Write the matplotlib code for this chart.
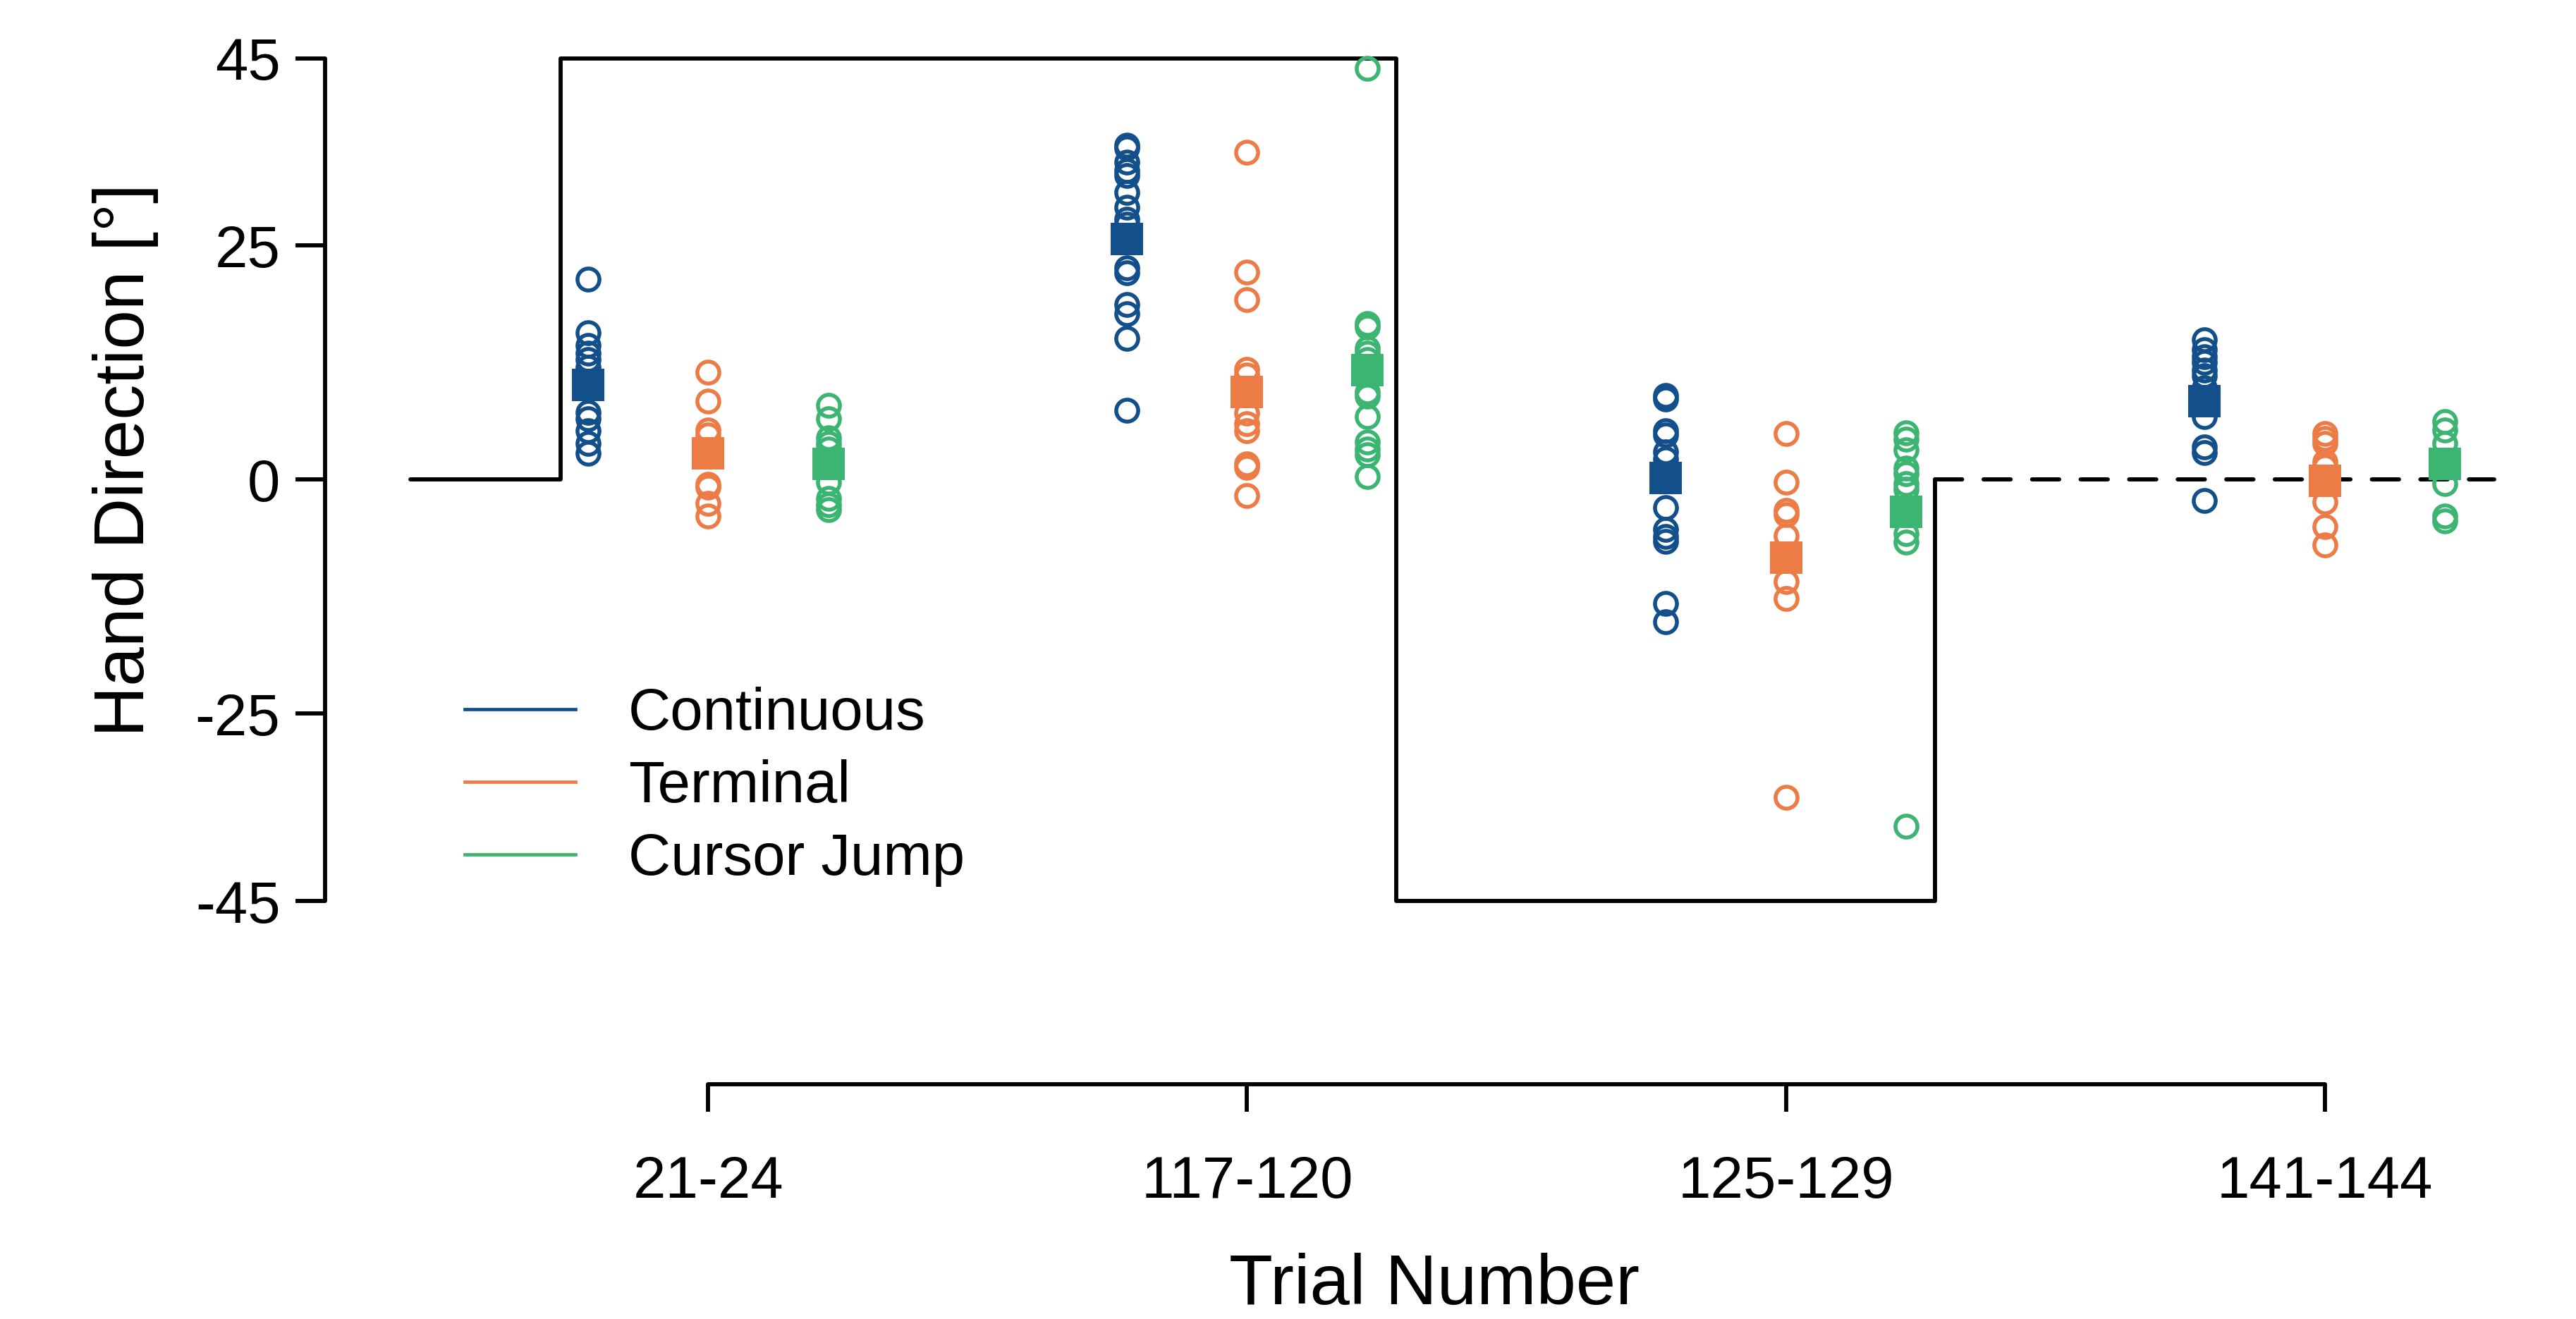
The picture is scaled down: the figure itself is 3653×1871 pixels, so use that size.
import matplotlib
matplotlib.use("Agg")
from matplotlib import pyplot as plt
from matplotlib.lines import Line2D

plt.rcParams['font.family'] = ['Liberation Sans', 'DejaVu Sans']
plt.rcParams['axes.unicode_minus'] = False

# x-axis groups (trial blocks)
blocks = ['21-24', '117-120', '125-129', '141-144']
block_pos = [1, 2, 3, 4]

# single-participant hand directions per block (degrees)
continuous = [
    [21.4, 15.7, 14.3, 13.5, 12.8, 12.0, 7.2, 6.5, 5.2, 3.9, 2.8],
    [35.7, 35.4, 33.9, 33.0, 32.5, 30.7, 29.1, 27.8, 27.3, 22.6, 22.1, 18.7, 17.7, 15.1, 7.4],
    [9.0, 8.6, 5.2, 4.8, 3.0, 2.2, -3.0, -5.3, -6.1, -6.6, -13.2, -15.2],
    [14.9, 13.9, 13.1, 12.5, 11.7, 11.1, 9.8, 6.7, 3.5, 2.9, -2.2],
]
terminal = [
    [11.5, 8.4, 5.3, 4.8, -0.5, -0.8, -2.5, -3.9],
    [35.0, 22.2, 19.2, 11.8, 11.2, 7.1, 6.0, 5.2, 1.7, 1.3, -1.7],
    [4.9, -0.25, -3.3, -3.7, -6.0, -10.9, -12.7, -33.9],
    [4.9, 4.4, 3.9, 1.9, 1.4, -2.4, -5.0, -7.0],
]
cursor_jump = [
    [7.9, 6.5, 4.5, 3.9, 3.3, -0.3, -2.0, -2.7, -3.2],
    [43.9, 16.7, 16.3, 14.0, 13.5, 12.8, 9.4, 8.9, 6.7, 4.0, 3.3, 2.7, 0.3],
    [5.0, 4.3, 3.2, 1.2, 0.6, -0.4, -1.0, -5.8, -6.7, -37.0],
    [6.2, 5.3, 3.9, -0.4, -3.9, -4.4],
]

# group means
continuous_mean = [10.1, 25.7, 0.2, 8.4]
terminal_mean = [2.8, 9.4, -8.3, -0.1]
cursor_jump_mean = [1.7, 11.7, -3.4, 1.7]

# rotation schedule (solid) and washout (dashed)
sched_x = [0.448, 0.726, 0.726, 2.277, 2.277, 3.277, 3.277]
sched_y = [0, 0, 45, 45, -45, -45, 0]
washout_x = [3.277, 4.314]
washout_y = [0, 0]

labels = ['Continuous', 'Terminal', 'Cursor Jump']
colors = ['#124F8B', '#ED7B45', '#3DB572']
offsets = [-0.223, 0, 0.223]

fig = plt.figure(figsize=(3653 / 200, 1871 / 200), dpi=200)
ax = fig.add_axes([0.1263, 0.1781, 0.9694 - 0.1263, 0.9626 - 0.1781])

lw = 2.1
ax.plot(sched_x, sched_y, color='black', lw=lw, solid_joinstyle='round',
        solid_capstyle='round')
ax.plot(washout_x, washout_y, color='black', lw=lw, linestyle=(0, (6.6, 5.2)),
        dash_capstyle='round')

for vals, means, col, off in zip([continuous, terminal, cursor_jump],
                                 [continuous_mean, terminal_mean, cursor_jump_mean],
                                 colors, offsets):
    for pos, v in zip(block_pos, vals):
        ax.plot([pos + off] * len(v), v, linestyle='none', marker='o',
                markersize=11.2, markerfacecolor='none', markeredgecolor=col,
                markeredgewidth=2.0)
    ax.plot([p + off for p in block_pos], means, linestyle='none', marker='s',
            markersize=16.5, color=col, markeredgewidth=0)

ax.set_xlim(0.2896, 4.320)
ax.set_ylim(-64.56, 45.96)

for s in ['top', 'right']:
    ax.spines[s].set_visible(False)
ax.spines['left'].set_bounds(-45, 45)
ax.spines['bottom'].set_bounds(1, 4)
ax.spines['left'].set_linewidth(lw)
ax.spines['bottom'].set_linewidth(lw)
ax.spines['left'].set_capstyle('round')
ax.spines['bottom'].set_capstyle('round')

ax.set_yticks([-45, -25, 0, 25, 45])
ax.set_yticklabels(['-45', '-25', '0', '25', '45'])
ax.set_xticks(block_pos)
ax.set_xticklabels(blocks)
ax.tick_params(axis='y', length=15, width=lw, pad=8, labelsize=30)
ax.tick_params(axis='x', length=14, width=lw, pad=22, labelsize=30)

ax.set_ylabel('Hand Direction [°]', fontsize=36)
ax.yaxis.set_label_coords(-0.0768, 0.603)
ax.set_xlabel('Trial Number', fontsize=36.5)
ax.xaxis.set_label_coords(0.5106, -0.1627)

handles = [Line2D([], [], color=c, lw=1.7) for c in colors]
ax.legend(handles, labels, loc='upper left', bbox_to_anchor=(0.0643, 0.384),
          frameon=False, fontsize=30, handlelength=1.88, handletextpad=0.9,
          labelspacing=0.3, borderpad=0, borderaxespad=0)

plt.savefig('out.png', dpi=200)
